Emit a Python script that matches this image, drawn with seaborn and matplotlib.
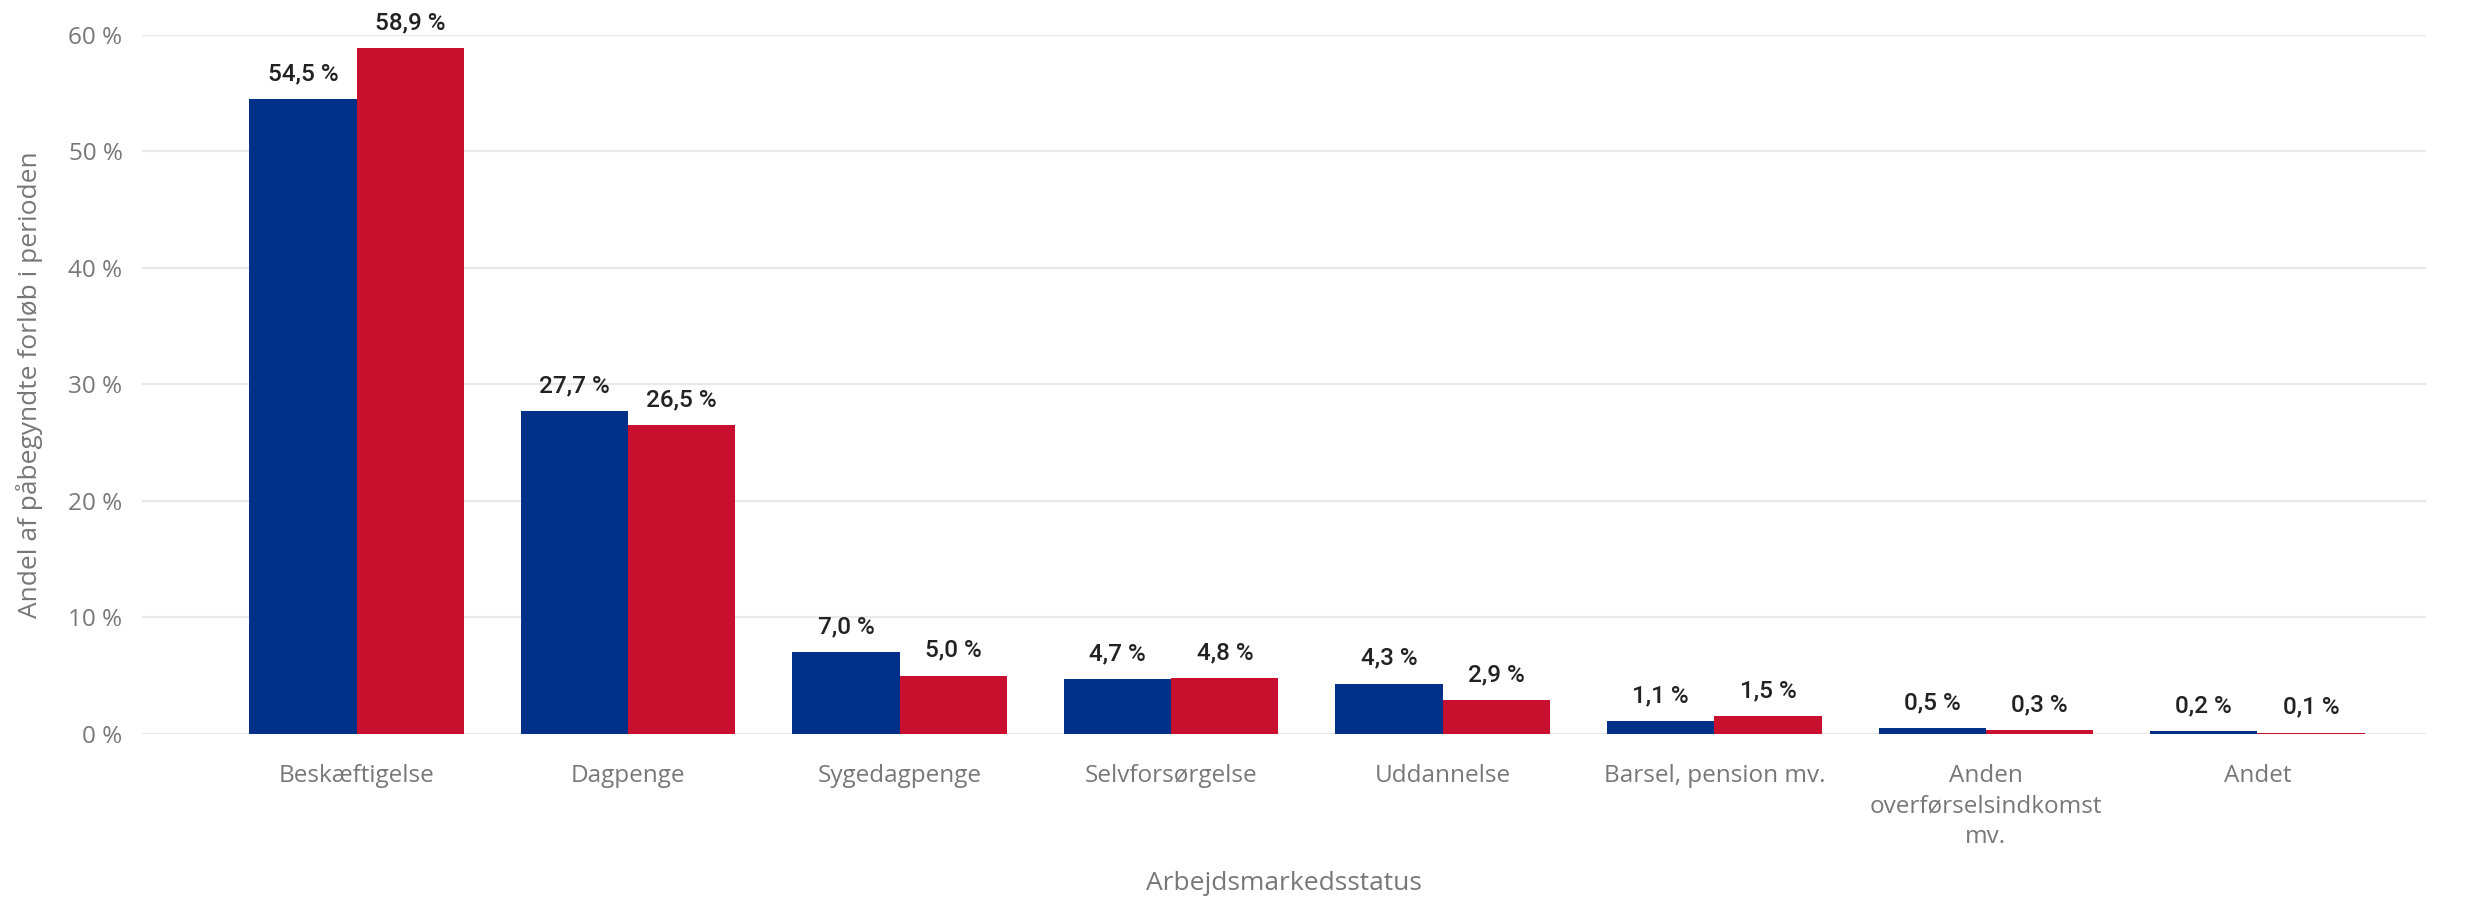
import numpy as np
import pandas as pd
import seaborn as sns
from matplotlib import pyplot as plt

categories = ["Beskæftigelse", "Dagpenge", "Sygedagpenge", "Selvforsørgelse",
              "Uddannelse", "Barsel, pension mv.", "Anden\noverførselsindkomst\nmv.", "Andet"]
series_names = ["Serie 1", "Serie 2"]
values_blue = [54.5, 27.7, 7.0, 4.7, 4.3, 1.1, 0.5, 0.2]
values_red = [58.9, 26.5, 5.0, 4.8, 2.9, 1.5, 0.3, 0.1]
yticks = [0, 10, 20, 30, 40, 50, 60]

colors = ["#003087", "#C8102E"]

df = pd.DataFrame({
    "status": categories * 2,
    "serie": [series_names[0]] * len(categories) + [series_names[1]] * len(categories),
    "andel": values_blue + values_red,
})

sns.set_style("white")
plt.rcParams['font.family'] = ['Open Sans', 'DejaVu Sans']

fig = plt.figure(figsize=(24.69, 8.97), dpi=100)
ax = fig.add_axes([0.0575, 0.182, 0.925, 0.779])

sns.barplot(data=df, x="status", y="andel", hue="serie", palette=colors,
            width=0.79, saturation=1, legend=False, ax=ax, errorbar=None,
            linewidth=0)

# data labels above each bar
for container, vals in zip(ax.containers, [values_blue, values_red]):
    labels = [f"{v:.1f} %".replace(".", ",") for v in vals]
    ax.bar_label(container, labels=labels, padding=10, fontsize=17.5,
                 color="#222222", family=["Roboto", "DejaVu Sans"],
                 fontweight="medium", clip_on=False)

ax.set_ylim(0, 60)
ax.set_xlim(-0.79, 7.62)
ax.set_yticks(yticks)
ax.set_yticklabels([f"{t} %" for t in yticks])
ax.yaxis.grid(True, color="#e8e8e8", linewidth=1.6)
ax.set_axisbelow(True)
sns.despine(ax=ax, left=True, bottom=True)
ax.tick_params(axis="both", length=0, labelsize=17.5, labelcolor="#777777")
ax.tick_params(axis="x", pad=22)
ax.tick_params(axis="y", pad=14)
for lbl in ax.get_xticklabels():
    lbl.set_linespacing(1.35)

ax.set_xlabel("Arbejdsmarkedsstatus", fontsize=19, color="#777777", labelpad=16)
ax.set_ylabel("Andel af påbegyndte forløb i perioden", fontsize=19, color="#777777", labelpad=18)

plt.savefig("out.png", dpi=100)
